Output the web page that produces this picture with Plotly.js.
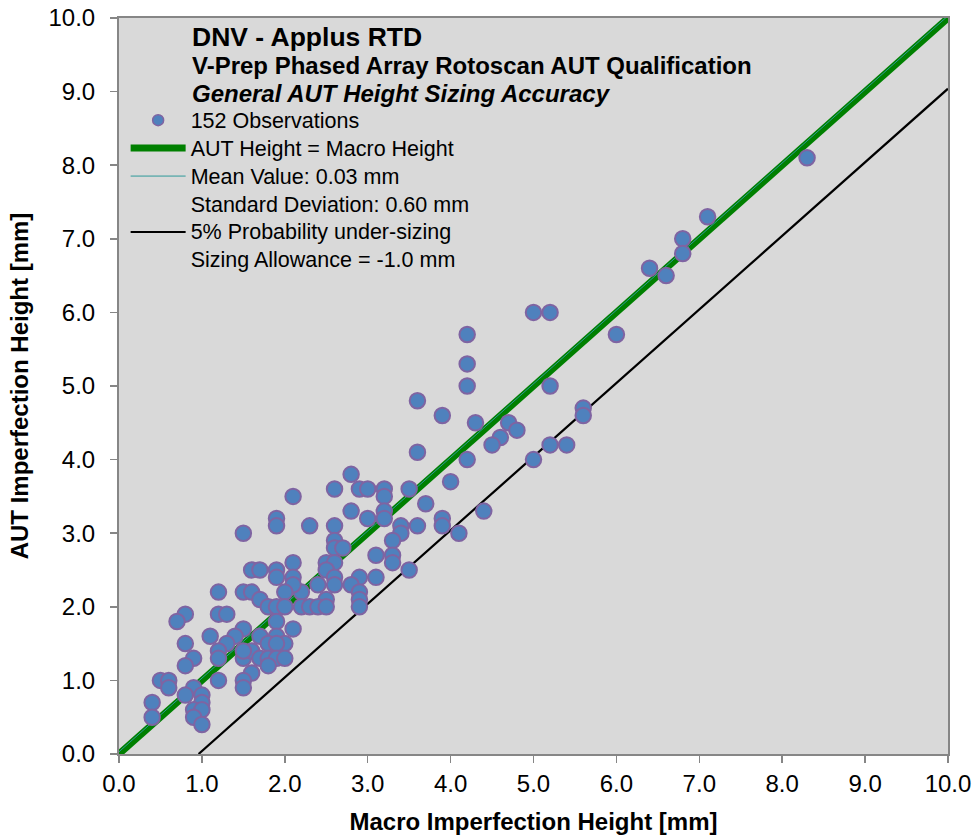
<!DOCTYPE html>
<html>
<head>
<meta charset="utf-8">
<script src="https://cdn.plot.ly/plotly-3.0.1.min.js"></script>
<style>html,body{margin:0;padding:0;background:#fff;}#chart{width:974px;height:835px;}</style>
</head>
<body>
<div id="chart"></div>
<script>
// Observations: Macro height (x) vs AUT height (y), mm
const macroHeight = [8.3,7.1,6.8,6.8,6.4,6.6,6.0,5.0,5.2,5.2,5.6,5.6,5.2,5.4,5.0,4.2,4.2,4.2,3.6,3.9,
  4.3,4.7,4.8,4.6,4.5,3.6,4.2,4.0,3.5,3.7,4.4,3.9,3.9,3.6,4.1,3.5,2.8,2.6,2.9,3.0,
  3.2,3.2,2.1,2.8,3.2,3.0,3.2,2.3,2.6,3.4,3.4,3.3,2.6,2.6,2.7,3.1,3.3,3.3,2.5,2.6,
  2.5,2.9,3.1,2.8,2.9,2.9,2.9,2.6,2.6,2.4,2.5,2.2,2.1,2.1,2.1,2.2,2.3,2.4,2.5,2.1,
  1.9,1.9,1.5,1.6,1.7,1.9,1.9,2.0,1.5,1.6,1.7,1.8,1.9,2.0,1.9,1.5,1.7,1.9,2.0,1.8,
  1.9,1.4,1.3,1.5,1.6,1.7,1.8,1.9,2.0,1.8,1.6,1.5,1.5,1.5,1.2,1.2,1.3,1.1,1.2,1.2,
  1.2,0.8,0.7,0.8,0.9,0.8,0.5,0.6,0.6,0.4,0.4,0.9,0.8,1.0,1.0,0.9,1.0,0.9,1.0];
const autHeight = [8.1,7.3,7.0,6.8,6.6,6.5,5.7,6.0,6.0,5.0,4.7,4.6,4.2,4.2,4.0,5.7,5.3,5.0,4.8,4.6,
  4.5,4.5,4.4,4.3,4.2,4.1,4.0,3.7,3.6,3.4,3.3,3.2,3.1,3.1,3.0,2.5,3.8,3.6,3.6,3.6,
  3.6,3.5,3.5,3.3,3.3,3.2,3.2,3.1,3.1,3.1,3.0,2.9,2.9,2.8,2.8,2.7,2.7,2.6,2.6,2.6,
  2.5,2.4,2.4,2.3,2.2,2.1,2.0,2.4,2.3,2.3,2.1,2.2,2.6,2.4,2.3,2.0,2.0,2.0,2.0,1.7,
  3.2,3.1,3.0,2.5,2.5,2.5,2.4,2.2,2.2,2.2,2.1,2.0,2.0,2.0,1.8,1.7,1.6,1.6,1.5,1.5,
  1.5,1.6,1.5,1.3,1.4,1.3,1.3,1.3,1.3,1.2,1.1,1.4,1.0,0.9,2.2,1.9,1.9,1.6,1.4,1.3,
  1.0,1.9,1.8,1.5,1.3,1.2,1.0,1.0,0.9,0.7,0.5,0.9,0.8,0.8,0.7,0.6,0.6,0.5,0.4];

// Reference lines (from the legend: mean 0.03 mm, SD 0.60 mm, 5% under-sizing)
const equalLineX = [0, 10];
const equalLineY = [0, 10];
const meanLineX = [0, 10];
const meanLineY = [0.03, 10.03];
const p5LineX = [0.96, 10];
const p5LineY = [0, 9.04];

const titleLines = ["DNV - Applus RTD", "V-Prep Phased Array Rotoscan AUT Qualification", "General AUT Height Sizing Accuracy"];
const legendNames = ["152 Observations", "AUT Height = Macro Height", "Mean Value: 0.03 mm", "Standard Deviation: 0.60 mm", "5% Probability under-sizing", "Sizing Allowance = -1.0 mm"];
const xTicks = [0,1,2,3,4,5,6,7,8,9,10];
const yTicks = [0,1,2,3,4,5,6,7,8,9,10];

const FONT = "Arial, 'Liberation Sans', sans-serif";
const markerFill = "#4f81bd", markerLine = "#7f64a2";
const nm = s => '<span style="font-size:21.5px">' + s + '</span>';

const traces = [
  {x: equalLineX, y: equalLineY, mode: "lines", line: {color: "#008000", width: 7}, showlegend: false, hoverinfo: "skip"},
  {x: meanLineX, y: meanLineY, mode: "lines", line: {color: "#2e9a9a", width: 1}, showlegend: false, hoverinfo: "skip"},
  {x: p5LineX, y: p5LineY, mode: "lines", line: {color: "#000000", width: 2.2}, showlegend: false, hoverinfo: "skip"},
  {x: macroHeight, y: autHeight, mode: "markers", marker: {size: 15.5, color: markerFill, line: {color: markerLine, width: 2}}, showlegend: false},
  // legend entries
  {x: [null], y: [null], mode: "markers", name: nm(legendNames[0]), marker: {size: 11, color: markerFill, line: {color: markerLine, width: 1.5}}},
  {x: [null], y: [null], mode: "lines", name: nm(legendNames[1]), line: {color: "#008000", width: 7}},
  {x: [null], y: [null], mode: "lines", name: nm(legendNames[2]), line: {color: "#2e9a9a", width: 1}},
  {x: [null], y: [null], mode: "lines", name: nm(legendNames[3]), line: {color: "rgba(0,0,0,0)", width: 0}},
  {x: [null], y: [null], mode: "lines", name: nm(legendNames[4]), line: {color: "#000000", width: 2}},
  {x: [null], y: [null], mode: "lines", name: nm(legendNames[5]), line: {color: "rgba(0,0,0,0)", width: 0}}
];

const axisCommon = {
  range: [0, 10], tickformat: ".1f", ticks: "outside", ticklen: 7, tickwidth: 1.5,
  tickcolor: "#868686", showline: true, linecolor: "#868686", linewidth: 2, mirror: true,
  showgrid: false, zeroline: false, tickfont: {family: FONT, size: 24, color: "#000"}, fixedrange: true
};

const layout = {
  width: 974, height: 835,
  margin: {l: 119, r: 26, t: 18, b: 81},
  paper_bgcolor: "#ffffff", plot_bgcolor: "#d9d9d9",
  font: {family: FONT, color: "#000"},
  xaxis: Object.assign({}, axisCommon, {tickvals: xTicks,
    title: {text: "<b>Macro Imperfection Height [mm]</b>", font: {family: FONT, size: 24}, standoff: 18}}),
  yaxis: Object.assign({}, axisCommon, {tickvals: yTicks, ticklabelstandoff: 10,
    title: {text: "<b>AUT Imperfection Height [mm]</b>", font: {family: FONT, size: 24}, standoff: 13}}),
  showlegend: true,
  legend: {x: 0.008, y: 0.887, xanchor: "left", yanchor: "top", bgcolor: "rgba(0,0,0,0)", borderwidth: 0,
    font: {family: FONT, size: 19.2, color: "#000"}, itemwidth: 55, traceorder: "normal"},
  annotations: [
    {xref: "paper", yref: "paper", x: 0.0856, y: 0.974, xanchor: "left", yanchor: "middle", showarrow: false,
      text: "<b>" + titleLines[0] + "</b>", font: {family: FONT, size: 26.5}},
    {xref: "paper", yref: "paper", x: 0.0856, y: 0.936, xanchor: "left", yanchor: "middle", showarrow: false,
      text: "<b>" + titleLines[1] + "</b>", font: {family: FONT, size: 24}},
    {xref: "paper", yref: "paper", x: 0.0856, y: 0.898, xanchor: "left", yanchor: "middle", showarrow: false,
      text: "<b><i>" + titleLines[2] + "</i></b>", font: {family: FONT, size: 24}}
  ]
};

Plotly.newPlot("chart", traces, layout, {displayModeBar: false, staticPlot: true});
</script>
</body>
</html>
